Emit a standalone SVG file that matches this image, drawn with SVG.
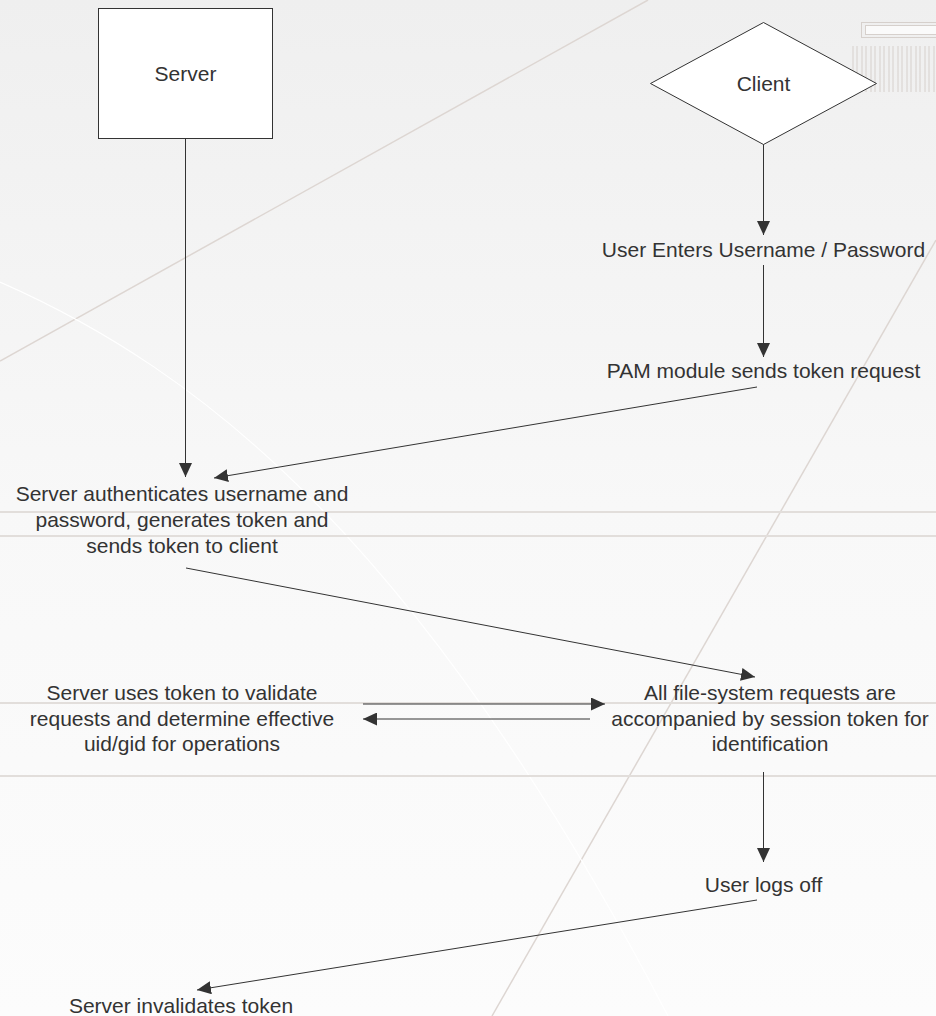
<svg xmlns="http://www.w3.org/2000/svg" width="936" height="1016" viewBox="0 0 936 1016">
  <defs>
    <linearGradient id="bg" x1="0" y1="0" x2="0" y2="1">
      <stop offset="0" stop-color="#efefef"/>
      <stop offset="0.5" stop-color="#f8f8f8"/>
      <stop offset="1" stop-color="#fcfcfc"/>
    </linearGradient>
    <marker id="arr" markerUnits="userSpaceOnUse" markerWidth="15" markerHeight="13" refX="14" refY="6.5" orient="auto">
      <path d="M0,0 L14,6.5 L0,13 Z" fill="#333333"/>
    </marker>
    <style>
      .lbl { font-family: "Liberation Sans", Arial, sans-serif; font-size: 21px; fill: #333333; text-anchor: middle; }
      .conn { stroke: #333333; stroke-width: 1; fill: none; }
      .deco { stroke: #ddd6d2; fill: none; }
      .node { fill: #ffffff; stroke: #333333; stroke-width: 1; }
    </style>
  </defs>

  <!-- background -->
  <rect x="0" y="0" width="936" height="1016" fill="url(#bg)"/>
  <g id="background-decoration">
    <line class="deco" x1="0" y1="361" x2="648" y2="0" stroke-width="1.5"/>
    <line class="deco" x1="492" y1="1016" x2="936" y2="240" stroke-width="1.5"/>
    <path d="M0,282 C200,370 420,540 668,1016" fill="none" stroke="#ffffff" stroke-width="1.2"/>
    <line x1="0" y1="512" x2="936" y2="512" stroke="#e2dedb" stroke-width="2"/>
    <line x1="0" y1="536" x2="936" y2="536" stroke="#e2dedb" stroke-width="2"/>
    <line x1="0" y1="703" x2="936" y2="703" stroke="#e2dedb" stroke-width="2"/>
    <line x1="0" y1="776" x2="936" y2="776" stroke="#e2dedb" stroke-width="2"/>
    <rect x="861.5" y="22.5" width="80" height="15" fill="none" stroke="#d6d0cc" stroke-width="1"/>
    <rect x="865.5" y="25.5" width="76" height="9" fill="#fafafa" stroke="#d6d0cc" stroke-width="1"/>
    <g stroke="#d6d0cc" stroke-width="1">
      <line x1="853" y1="46" x2="853" y2="92"/>
      <line x1="857" y1="46" x2="857" y2="92"/>
      <line x1="862" y1="46" x2="862" y2="92"/>
      <line x1="866" y1="46" x2="866" y2="92"/>
      <line x1="871" y1="46" x2="871" y2="92"/>
      <line x1="875" y1="46" x2="875" y2="92"/>
      <line x1="880" y1="46" x2="880" y2="92"/>
      <line x1="884" y1="46" x2="884" y2="92"/>
      <line x1="889" y1="46" x2="889" y2="92"/>
      <line x1="893" y1="46" x2="893" y2="92"/>
      <line x1="898" y1="46" x2="898" y2="92"/>
      <line x1="902" y1="46" x2="902" y2="92"/>
      <line x1="907" y1="46" x2="907" y2="92"/>
      <line x1="911" y1="46" x2="911" y2="92"/>
      <line x1="916" y1="46" x2="916" y2="92"/>
      <line x1="920" y1="46" x2="920" y2="92"/>
      <line x1="925" y1="46" x2="925" y2="92"/>
      <line x1="929" y1="46" x2="929" y2="92"/>
      <line x1="934" y1="46" x2="934" y2="92"/>
    </g>
  </g>

  <!-- connectors -->
  <g id="connectors">
    <line class="conn" x1="185.5" y1="139" x2="185.5" y2="477" marker-end="url(#arr)"/>
    <line class="conn" x1="763.5" y1="144" x2="763.5" y2="235" marker-end="url(#arr)"/>
    <line class="conn" x1="763.5" y1="265" x2="763.5" y2="357" marker-end="url(#arr)"/>
    <line class="conn" x1="757" y1="387" x2="214" y2="478" marker-end="url(#arr)"/>
    <line class="conn" x1="186" y1="568" x2="755" y2="677" marker-end="url(#arr)"/>
    <line class="conn" x1="363" y1="704" x2="605" y2="704" marker-end="url(#arr)"/>
    <line class="conn" x1="590" y1="719" x2="363" y2="719" stroke="#555555" marker-end="url(#arr)"/>
    <line class="conn" x1="763.5" y1="772" x2="763.5" y2="862" marker-end="url(#arr)"/>
    <line class="conn" x1="757" y1="900" x2="197" y2="990" marker-end="url(#arr)"/>
  </g>

  <!-- nodes -->
  <g id="server">
    <rect class="node" x="98.5" y="8.5" width="174" height="130"/>
    <text class="lbl" x="185.5" y="80.5">Server</text>
  </g>
  <g id="client">
    <polygon class="node" points="763.5,22.5 876.5,83.5 763.5,144.5 650.5,83.5"/>
    <text class="lbl" x="763.5" y="90.5">Client</text>
  </g>
  <g id="user-enters">
    <text class="lbl" x="763.5" y="257">User Enters Username / Password</text>
  </g>
  <g id="pam-module">
    <text class="lbl" x="763.5" y="378">PAM module sends token request</text>
  </g>
  <g id="server-authenticates">
    <text class="lbl" x="182" y="501">Server authenticates username and</text>
    <text class="lbl" x="182" y="527">password, generates token and</text>
    <text class="lbl" x="182" y="553">sends token to client</text>
  </g>
  <g id="server-uses-token">
    <text class="lbl" x="182" y="700">Server uses token to validate</text>
    <text class="lbl" x="182" y="725.5">requests and determine effective</text>
    <text class="lbl" x="182" y="751">uid/gid for operations</text>
  </g>
  <g id="file-system-requests">
    <text class="lbl" x="770" y="700">All file-system requests are</text>
    <text class="lbl" x="770" y="725.5">accompanied by session token for</text>
    <text class="lbl" x="770" y="751">identification</text>
  </g>
  <g id="user-logs-off">
    <text class="lbl" x="763.5" y="892">User logs off</text>
  </g>
  <g id="server-invalidates">
    <text class="lbl" x="181" y="1013">Server invalidates token</text>
  </g>
</svg>
